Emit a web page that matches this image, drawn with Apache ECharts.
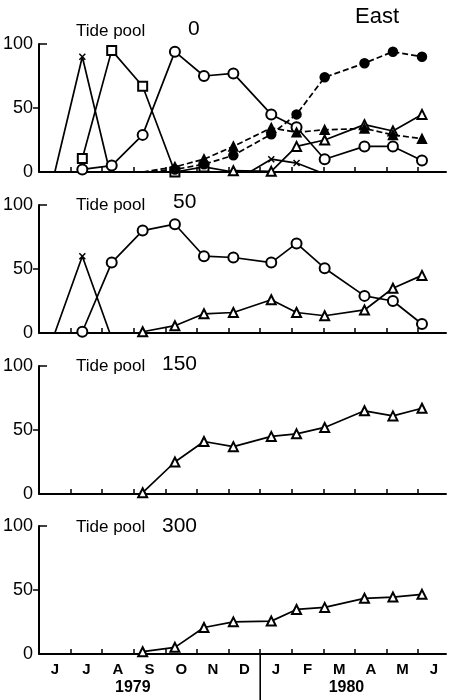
<!DOCTYPE html>
<html>
<head>
<meta charset="utf-8">
<script src="https://cdn.jsdelivr.net/npm/echarts@6/dist/echarts.min.js"></script>
<style>
  html, body { margin: 0; background: #fff; }
  #chart { width: 449px; height: 700px; }
</style>
</head>
<body>
<div id="chart"></div>
<script>
// months counted from 1 June 1979
const monthLetters = ['J', 'J', 'A', 'S', 'O', 'N', 'D', 'J', 'F', 'M', 'A', 'M', 'J'];
const monthTicks = [0, 1, 2, 3, 4, 5, 6, 7, 8, 9, 10, 11, 12];
const monthLabelPos = [0.5, 1.5, 2.5, 3.5, 4.5, 5.5, 6.5, 7.5, 8.5, 9.5, 10.5, 11.5, 12.5];
const yearLabels = ['1979', '1980'];
const yearLabelPos = [2.97, 9.73];
const yearBreak = 7;

// sampling dates (month units)
const sampleMonth = [1.37, 2.3, 3.28, 4.3, 5.22, 6.15, 7.35, 8.15, 9.04, 10.3, 11.2, 12.12];

// Tide pool 0
const pool0Circle = [2, 5, 29, 94, 75, 77, 45, 35, 10, 20, 20, 9];
const pool0Square = [10.5, 95, 67, 0, 4, 0, null, null, null, null, null, null];
const pool0FilledCircle = [null, null, 0, 2, 6, 13, 29.5, 45, 74, 85, 94, 90];
const pool0FilledTri = [null, null, 0, 4, 10, 20, 34.5, 31, 33, 34, 29, 26];
const pool0OpenTri = [null, null, null, null, null, 1, 0.5, 20, 25, 37, 32, 45];
const crossMonthA = [0.5, 1.37, 2.24];
const pool0CrossA = [0, 90, 0];
const crossMonthB = [6.67, 7.35, 8.15, 8.88];
const pool0CrossB = [0, 10, 7, 0];

// Tide pool 50
const pool50Cross = [0, 60, 0];
const pool50Circle = [1, 55, 80, 85, 60, 59, 55, 70, 50.6, 29, 25, 7];
const pool50Tri = [null, null, 1, 5.7, 15, 16, 26, 16, 13.5, 18, 35, 45];

// Tide pool 150
const pool150Tri = [null, null, 1, 25, 41, 37, 45, 47, 52, 65, 61, 67];

// Tide pool 300
const pool300Tri = [null, null, 1.8, 5.2, 20.7, 25.1, 25.7, 34.8, 36.4, 43.5, 44.5, 46.6];

const FONT = '"Liberation Sans", Arial, Helvetica, sans-serif';
const CROSS = 'path://M0,0L10,10M10,0L0,10';
const tops = [44, 205, 366, 526];
const H = 128;

const chart = echarts.init(document.getElementById('chart'), null, { renderer: 'canvas' });

function mk(g, xs, ys, sym, size, dashed) {
  const data = [];
  xs.forEach((x, i) => { if (ys[i] != null) data.push([x, ys[i]]); });
  const n = data.length;
  return {
    type: 'line',
    xAxisIndex: g,
    yAxisIndex: g * 2,
    data: data,
    showAllSymbol: true,
    // zero-valued end points are drawn without a marker
    symbol: (v, p) => (v[1] === 0 && (p.dataIndex === 0 || p.dataIndex === n - 1)) ? 'none' : sym,
    symbolSize: size,
    lineStyle: { color: '#000', width: 1.7, type: dashed ? [6, 3] : 'solid' },
    itemStyle: { color: '#000', borderColor: '#000', borderWidth: 1.5 },
    z: dashed ? 3 : 2
  };
}

const grid = tops.map(t => ({ left: 39, width: 407, top: t, height: H }));

const xAxis = tops.map((t, i) => ({
  gridIndex: i,
  type: 'value',
  min: 0,
  max: 12.88,
  axisLine: { lineStyle: { color: '#000', width: 2 } },
  axisTick: { show: true, inside: true, length: 5, customValues: monthTicks,
              lineStyle: { color: '#000', width: 1.5 } },
  axisLabel: i === 3 ? {
    show: true, customValues: monthLabelPos, color: '#000', fontSize: 15, fontWeight: 'bold',
    fontFamily: FONT, margin: 8,
    formatter: v => monthLetters[Math.floor(v)]
  } : { show: false },
  splitLine: { show: false }
}));

const yAxis = [];
tops.forEach((t, i) => {
  yAxis.push({
    gridIndex: i,
    type: 'value',
    min: 0, max: 100, interval: 50,
    axisLine: { show: true, lineStyle: { color: '#000', width: 2 } },
    axisTick: { show: true, length: 6, customValues: [50], lineStyle: { color: '#000', width: 1.5 } },
    axisLabel: { color: '#000', fontSize: 18, fontFamily: FONT, margin: 6 },
    splitLine: { show: false }
  });
  yAxis.push({
    gridIndex: i,
    type: 'value',
    position: 'left',
    min: 0, max: 100,
    axisLine: { show: false },
    axisTick: { show: true, inside: true, length: 8, customValues: [100], lineStyle: { color: '#000', width: 1.5 } },
    axisLabel: { show: false },
    splitLine: { show: false }
  });
});

const series = [
  mk(0, crossMonthA, pool0CrossA, CROSS, 6, false),
  mk(0, crossMonthB, pool0CrossB, CROSS, 6, false),
  mk(0, sampleMonth, pool0Square, 'emptyRect', 9, false),
  mk(0, sampleMonth, pool0Circle, 'emptyCircle', 10, false),
  mk(0, sampleMonth, pool0OpenTri, 'emptyTriangle', 9, false),
  mk(0, sampleMonth, pool0FilledTri, 'triangle', 9, true),
  mk(0, sampleMonth, pool0FilledCircle, 'circle', 9, true),

  mk(1, crossMonthA, pool50Cross, CROSS, 6, false),
  mk(1, sampleMonth, pool50Circle, 'emptyCircle', 10, false),
  mk(1, sampleMonth, pool50Tri, 'emptyTriangle', 9, false),

  mk(2, sampleMonth, pool150Tri, 'emptyTriangle', 9, false),

  mk(3, sampleMonth, pool300Tri, 'emptyTriangle', 9, false)
];

chart.setOption({
  animation: false,
  backgroundColor: '#fff',
  grid: grid,
  xAxis: xAxis,
  yAxis: yAxis,
  series: series
});

// panel titles, year labels and the year divider
const titleY = [31, 205, 366, 527];
const numText = ['0', '50', '150', '300'];
const numX = [188, 173, 162, 162];
const numY = [29.5, 202.5, 364.5, 526];
const graphics = [];
titleY.forEach((y, i) => {
  graphics.push({ type: 'text', x: 76, y: y,
    style: { text: 'Tide pool', font: '17px ' + FONT, fill: '#000', verticalAlign: 'middle' } });
  graphics.push({ type: 'text', x: numX[i], y: numY[i],
    style: { text: numText[i], font: '21px ' + FONT, fill: '#000', verticalAlign: 'middle' } });
});
graphics.push({ type: 'text', x: 355, y: 17,
  style: { text: 'East', font: '22px ' + FONT, fill: '#000', verticalAlign: 'middle' } });

yearLabels.forEach((t, i) => {
  const p = chart.convertToPixel({ gridIndex: 3 }, [yearLabelPos[i], 0]);
  graphics.push({ type: 'text', x: p[0], y: 688,
    style: { text: t, font: 'bold 16px ' + FONT, fill: '#000', align: 'center', verticalAlign: 'middle' } });
});
const b = chart.convertToPixel({ gridIndex: 3 }, [yearBreak, 0]);
graphics.push({ type: 'line', shape: { x1: b[0], y1: b[1], x2: b[0], y2: 700 },
  style: { stroke: '#000', lineWidth: 1.6 } });

chart.setOption({ graphic: graphics });
</script>
</body>
</html>
